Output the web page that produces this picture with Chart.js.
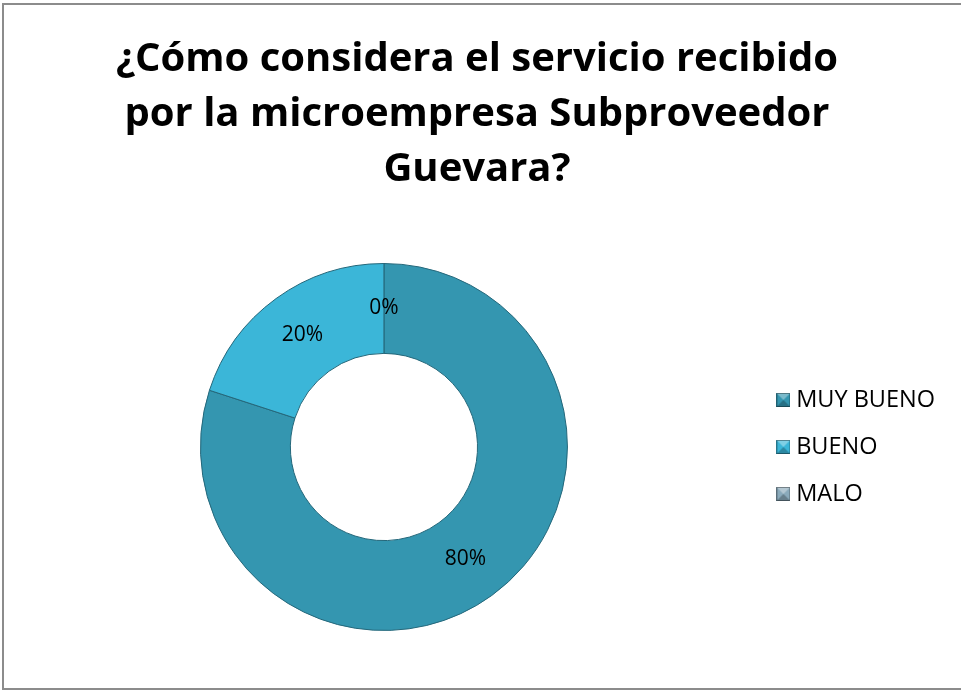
<!DOCTYPE html>
<html>
<head>
<meta charset="utf-8">
<script src="https://cdn.jsdelivr.net/npm/chart.js@4.4.1/dist/chart.umd.min.js"></script>
<style>
  html, body { margin: 0; padding: 0; background: #fff; }
  #frame {
    position: absolute; left: 2px; top: 3px; width: 970px; height: 687px;
    border: 2px solid #8c8c8c; box-sizing: border-box;
  }
  #wrap { position: absolute; left: 0; top: 0; width: 961px; height: 691px; }
</style>
</head>
<body>
<div id="frame"></div>
<div id="wrap"><canvas id="c"></canvas></div>
<script>
const categories = ["MUY BUENO", "BUENO", "MALO"];
const values = [80, 20, 0];
const percentLabels = ["80%", "20%", "0%"];
const titleLines = ["¿Cómo considera el servicio recibido", "por la microempresa Subproveedor", "Guevara?"];
const colors = ["#3496b0", "#3bb6d8", "#8aaabb"];

// small bevelled squares for the legend
function makeSwatch(color) {
  const s = 14;
  const cv = document.createElement("canvas");
  cv.width = s; cv.height = s;
  const g = cv.getContext("2d");
  g.fillStyle = color;
  g.fillRect(0, 0, s, s);
  g.fillStyle = "rgba(255,255,255,0.35)";
  g.beginPath(); g.moveTo(0, 0); g.lineTo(s, 0); g.lineTo(s / 2, s / 2); g.closePath(); g.fill();
  g.fillStyle = "rgba(0,0,0,0.25)";
  g.beginPath(); g.moveTo(0, s); g.lineTo(s, s); g.lineTo(s / 2, s / 2); g.closePath(); g.fill();
  g.strokeStyle = "rgba(0,0,0,0.35)";
  g.strokeRect(0.5, 0.5, s - 1, s - 1);
  return cv;
}
const swatches = colors.map(makeSwatch);

const sliceLabels = {
  id: "sliceLabels",
  afterDatasetsDraw(chart) {
    const ctx = chart.ctx;
    const meta = chart.getDatasetMeta(0);
    ctx.save();
    ctx.font = "21px 'Open Sans'";
    ctx.fillStyle = "#000";
    ctx.textAlign = "center";
    ctx.textBaseline = "middle";
    meta.data.forEach((arc, i) => {
      const p = arc.tooltipPosition();
      ctx.fillText(percentLabels[i], p.x, p.y);
    });
    ctx.restore();
  }
};

new Chart(document.getElementById("c"), {
  type: "doughnut",
  data: {
    labels: categories,
    datasets: [{
      data: values,
      backgroundColor: colors,
      borderColor: "#24677a",
      borderWidth: 1,
      hoverOffset: 0
    }]
  },
  options: {
    responsive: true,
    maintainAspectRatio: false,
    animation: false,
    cutout: "51%",
    layout: { padding: { left: 9, right: 16, top: 0, bottom: 60 } },
    plugins: {
      title: {
        display: true,
        text: titleLines,
        color: "#000",
        font: { family: "'Open Sans'", size: 40, weight: "bold", lineHeight: 1.375 },
        padding: { top: 32, bottom: 66 }
      },
      legend: {
        position: "right",
        fullSize: false,
        labels: {
          color: "#000",
          font: { family: "'Open Sans'", size: 23.5 },
          usePointStyle: true,
          pointStyleWidth: 2,
          padding: 23.5,
          generateLabels: (chart) => categories.map((c, i) => ({
            text: c,
            pointStyle: swatches[i],
            fillStyle: colors[i],
            strokeStyle: colors[i],
            lineWidth: 0,
            hidden: false,
            index: i
          }))
        }
      },
      tooltip: { enabled: false }
    }
  },
  plugins: [sliceLabels]
});
</script>
</body>
</html>
